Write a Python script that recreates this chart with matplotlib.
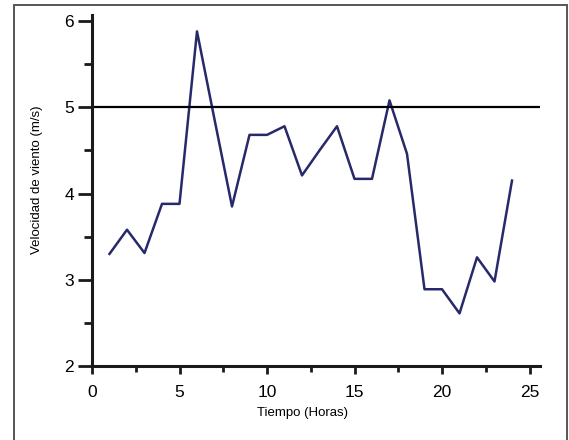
import matplotlib
matplotlib.use("Agg")
import matplotlib.pyplot as plt
from matplotlib.patches import Rectangle
from matplotlib.ticker import MultipleLocator

plt.rcParams['font.family'] = ['Liberation Sans', 'DejaVu Sans']

# datos: velocidad de viento por hora
horas = list(range(1, 25))
velocidad = [3.3, 3.58, 3.31, 3.88, 3.88, 5.88, 4.86, 3.85, 4.68, 4.68,
             4.78, 4.21, 4.5, 4.78, 4.17, 4.17, 5.08, 4.46, 2.89, 2.89,
             2.61, 3.26, 2.98, 4.15]
limite = 5

fig = plt.figure(figsize=(5.69, 4.40), dpi=100)
ax = fig.add_axes([92 / 569, 1 - 366 / 440, 448 / 569, 351 / 440])

# marco exterior
fig.patches.append(Rectangle((14 / 569, -0.05), 553 / 569, 1.05 - 5 / 440,
                             transform=fig.transFigure, fill=False,
                             edgecolor='#555555', linewidth=1.4))

ax.plot(horas, velocidad, '-', color='#27296a', linewidth=1.8)
ax.axhline(limite, color='black', linewidth=1.6)

ax.set_xlim(0, 25.6)
ax.set_ylim(2, 6.07)
ax.xaxis.set_major_locator(MultipleLocator(5))
ax.xaxis.set_minor_locator(MultipleLocator(2.5))
ax.yaxis.set_major_locator(MultipleLocator(1))
ax.yaxis.set_minor_locator(MultipleLocator(0.5))

for s in ['top', 'right']:
    ax.spines[s].set_visible(False)
for s in ['left', 'bottom']:
    ax.spines[s].set_linewidth(2.2)
    ax.spines[s].set_color('#1a1a1a')

ax.tick_params(axis='x', which='major', length=6, width=2, pad=8,
               labelsize=12.5, direction='out', color='#1a1a1a')
ax.tick_params(axis='x', which='minor', length=4, width=2, direction='out',
               color='#1a1a1a')
ax.tick_params(axis='y', which='major', length=10, width=2, pad=3,
               labelsize=12.5, direction='out', color='#1a1a1a')
ax.tick_params(axis='y', which='minor', length=6, width=2, direction='out',
               color='#1a1a1a')

ax.set_xlabel('Tiempo (Horas)', fontsize=9.5)
ax.set_ylabel('Velocidad de viento (m/s)', fontsize=9.5)
ax.xaxis.set_label_coords(0.469, -0.134)
ax.yaxis.set_label_coords(-0.123, 0.53)
ax.xaxis.label.set_va('center')
ax.yaxis.label.set_va('center')

fig.savefig('out.png', dpi=100)
